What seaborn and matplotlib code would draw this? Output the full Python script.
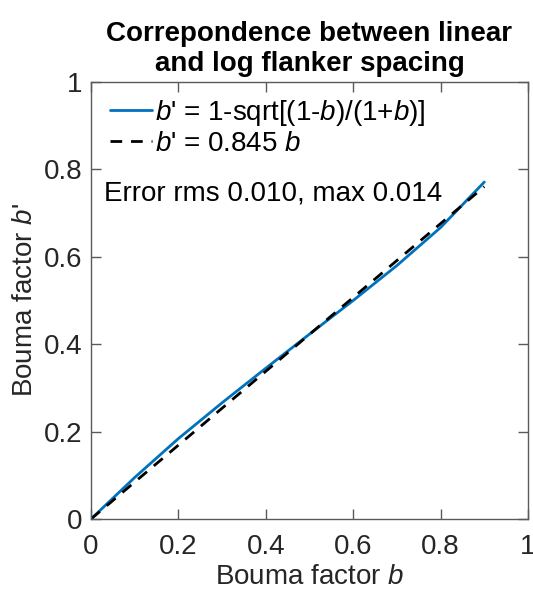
import seaborn as sns
import pandas as pd
import matplotlib.pyplot as plt
import numpy as np

# values
b = [0.0, 0.1, 0.2, 0.3, 0.4, 0.5, 0.6, 0.7, 0.8, 0.9]
b_sqrt = [0.0, 0.095, 0.184, 0.266, 0.345, 0.423, 0.500, 0.580, 0.667, 0.771]
b_lin = [0.0, 0.0845, 0.169, 0.2535, 0.338, 0.4225, 0.507, 0.5915, 0.676, 0.7605]
ticks = [0, 0.2, 0.4, 0.6, 0.8, 1]
tick_labels = ["0", "0.2", "0.4", "0.6", "0.8", "1"]

sns.set_style("ticks")
plt.rcParams['font.family'] = ['Liberation Sans', 'DejaVu Sans']
plt.rcParams['mathtext.fontset'] = 'custom'
plt.rcParams['mathtext.rm'] = 'Liberation Sans'
plt.rcParams['mathtext.it'] = 'Liberation Sans:italic'

df = pd.DataFrame({"b": b, "sqrt": b_sqrt, "lin": b_lin})

fig = plt.figure(figsize=(5.33, 5.92), dpi=100)
ax = fig.add_axes([0.1707, 0.1233, 0.8199, 0.7382])

sns.lineplot(data=df, x="b", y="sqrt", ax=ax, color="#0072BD", linewidth=2.0,
             label="$b$' = 1-sqrt[(1-$b$)/(1+$b$)]")
sns.lineplot(data=df, x="b", y="lin", ax=ax, color="black", linewidth=2.0,
             linestyle=(0, (4.2, 3.2)), label="$b$' = 0.845 $b$")

ax.set_xlim(0, 1)
ax.set_ylim(0, 1)
ax.set_xticks(ticks)
ax.set_xticklabels(tick_labels)
ax.set_yticks(ticks)
ax.set_yticklabels(tick_labels)

axcol = "#5a5a5a"
for sp in ax.spines.values():
    sp.set_visible(True)
    sp.set_color(axcol)
    sp.set_linewidth(1.0)
ax.tick_params(direction="in", length=7, width=1.0, color=axcol,
               top=True, right=True, labelsize=20, labelcolor="#262626")
ax.tick_params(axis="x", pad=11)
ax.tick_params(axis="y", pad=6)

ax.set_xlabel("Bouma factor $b$", fontsize=20, color="#262626", labelpad=3)
ax.set_ylabel("Bouma factor $b$'", fontsize=20, color="#262626", labelpad=4)
ax.set_title("Correpondence between linear\nand log flanker spacing",
             fontsize=20, fontweight="bold", linespacing=1.2, pad=8, color="black")

ax.text(0.03, 0.745, "Error rms 0.010, max 0.014", fontsize=20,
        color="black", transform=ax.transData, va="center")

ax.legend(loc="upper left", frameon=False, fontsize=20, handlelength=1.5,
          handletextpad=0.12, borderaxespad=0.3, labelspacing=0.12,
          bbox_to_anchor=(0.0, 1.009), labelcolor="black")

fig.savefig("out.png", dpi=100)
